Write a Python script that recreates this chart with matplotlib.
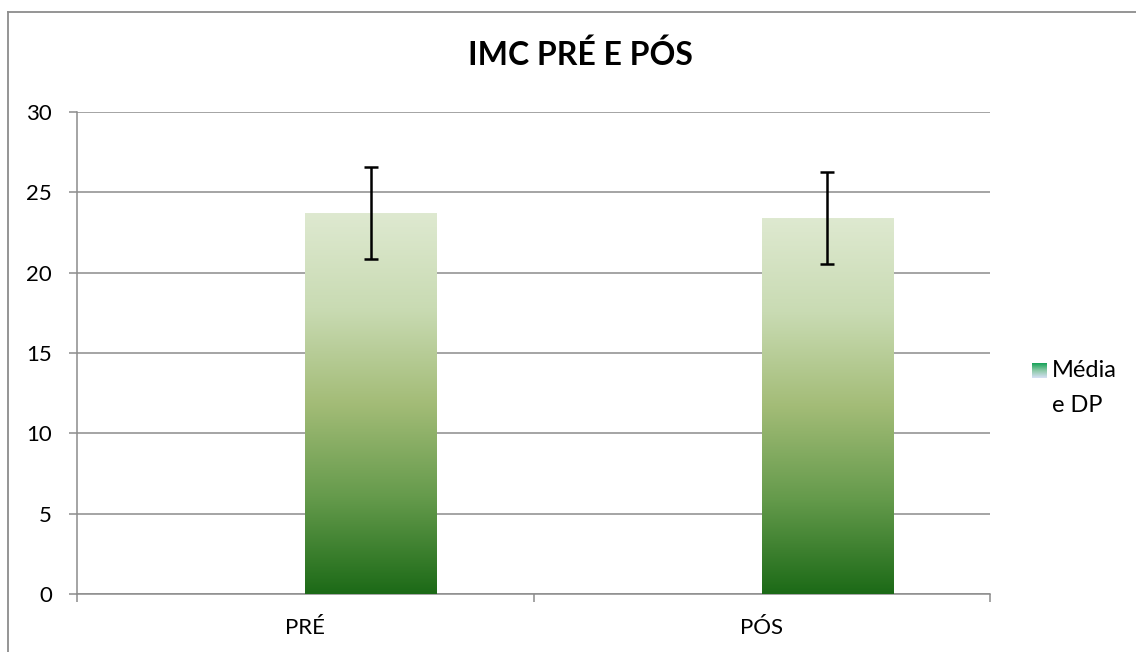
import numpy as np
import matplotlib
matplotlib.use('Agg')
import matplotlib.pyplot as plt
from matplotlib.colors import LinearSegmentedColormap
from matplotlib.lines import Line2D

plt.rcParams['font.family'] = ['Lato', 'DejaVu Sans']

#data
categories = ['PRÉ', 'PÓS']
media = [23.7, 23.4]
dp = [2.85, 2.86]
serie = 'Média e DP'
titulo = 'IMC PRÉ E PÓS'
yticks = [0, 5, 10, 15, 20, 25, 30]

#gradients
verde = LinearSegmentedColormap.from_list('verde', [
    (0.0, '#1c6a17'), (0.25, '#649a4b'), (0.5, '#a3bc77'),
    (0.75, '#c9dbb3'), (1.0, '#dee9d0')])
legenda_cor = LinearSegmentedColormap.from_list('leg', ['#d8e0f6', '#8cc9a8', '#15a257'])

W, H = 1136, 652
fig = plt.figure(figsize=(W / 100, H / 100), dpi=100)
ax = fig.add_axes([77 / W, (H - 594) / H, 913 / W, (594 - 112) / H])

x = np.arange(len(categories))
largura = 0.287
grad = np.linspace(0, 1, 256).reshape(-1, 1)
barras = ax.bar(x, media, width=largura, align='edge', color='none', edgecolor='none', zorder=3)
for b, m in zip(barras, media):
    im = ax.imshow(grad, cmap=verde, origin='lower', aspect='auto',
                   extent=[b.get_x(), b.get_x() + largura, 0, m], zorder=3)
    im.set_clip_path(b)

ax.errorbar(x + largura / 2, media, yerr=dp, fmt='none', ecolor='black',
            elinewidth=1.8, capsize=5, capthick=1.8, zorder=4)

ax.set_xlim(-0.5, len(categories) - 0.5)
ax.set_ylim(0, 30)
ax.set_yticks(yticks)
ax.yaxis.grid(True, color='#8c8c8c', linewidth=1.1, zorder=0)
ax.set_axisbelow(True)

# category boundaries as ticks, names in between
ax.set_xticks(np.arange(len(categories) + 1) - 0.5)
ax.set_xticklabels([])
ax.set_xticks(x, minor=True)
ax.set_xticklabels(categories, minor=True)
ax.tick_params(axis='x', which='major', length=6, width=1.1, color='#8c8c8c', direction='out')
ax.tick_params(axis='x', which='minor', length=0, pad=17, labelsize=16)
ax.tick_params(axis='y', length=6, width=1.1, color='#8c8c8c', direction='out', pad=12, labelsize=16)

for s in ['top', 'right']:
    ax.spines[s].set_visible(False)
for s in ['left', 'bottom']:
    ax.spines[s].set_color('#8c8c8c')
    ax.spines[s].set_linewidth(1.1)

fig.text(580 / W, 1 - 55 / H, titulo, ha='center', va='center', fontsize=23, fontweight='bold')

# legend
lax = fig.add_axes([1032 / W, 1 - 378 / H, 15 / W, 15 / H])
lax.imshow(grad, cmap=legenda_cor, origin='lower', aspect='auto')
lax.axis('off')
palavras = serie.split(' ', 1)
fig.text(1052 / W, 1 - 370 / H, palavras[0], ha='left', va='center', fontsize=17)
fig.text(1052 / W, 1 - 406 / H, palavras[1], ha='left', va='center', fontsize=17)

# chart frame
fig.add_artist(Line2D([8 / W, 1], [1 - 12 / H] * 2, color='#8c8c8c', linewidth=1.3))
fig.add_artist(Line2D([8 / W] * 2, [1 - 12 / H, 0], color='#8c8c8c', linewidth=1.3))

plt.savefig('out.png', dpi=100)
